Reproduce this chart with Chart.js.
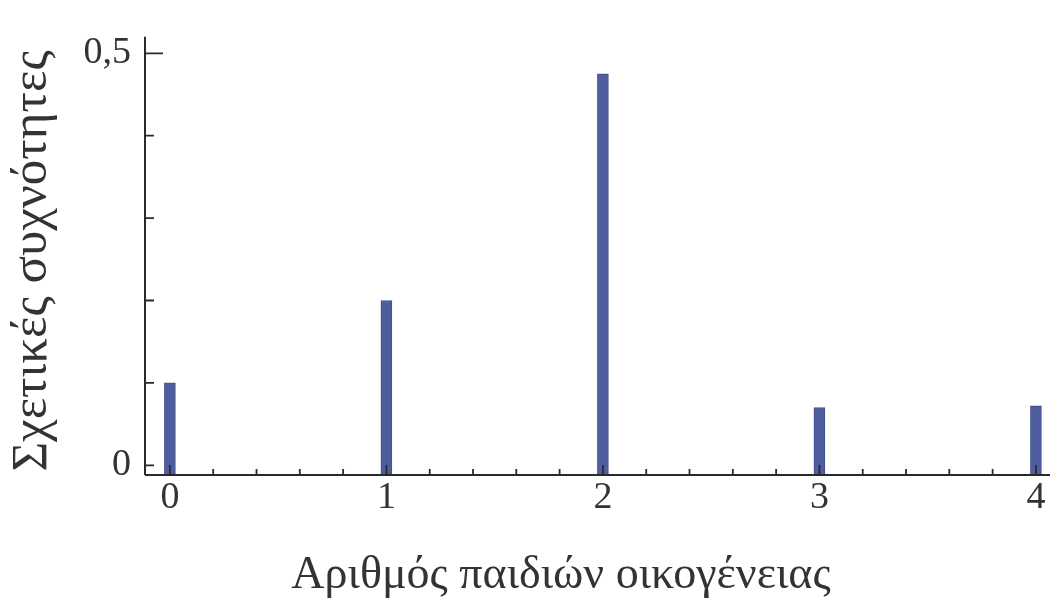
<!DOCTYPE html>
<html>
<head>
<meta charset="utf-8">
<script src="https://cdn.jsdelivr.net/npm/chart.js@4.4.1/dist/chart.umd.min.js"></script>
<style>
html,body{margin:0;padding:0;background:#fff;}
#wrap{width:1050px;height:601px;position:relative;}
</style>
</head>
<body>
<div id="wrap"><canvas id="c"></canvas></div>
<script>
// ---- data ----
const categories = [0, 1, 2, 3, 4];
const relFreq = [0.10, 0.20, 0.475, 0.07, 0.072];
const xTickValues = [0, 1, 2, 3, 4];
const xTickLabels = ['0', '1', '2', '3', '4'];
const xMinorTicks = [0.2,0.4,0.6,0.8,1.2,1.4,1.6,1.8,2.2,2.4,2.6,2.8,3.2,3.4,3.6,3.8];
const yTickValues = [0, 0.5];
const yTickLabels = ['0', '0,5'];
const yMinorTicks = [0.1, 0.2, 0.3, 0.4];
const xTitle = 'Αριθμός παιδιών οικογένειας';
const yTitle = 'Σχετικές συχνότητες';

// ---- axis ranges ----
const X_MIN = -0.115, X_MAX = 4.065;
const Y_MIN = -0.0118, Y_MAX = 0.52;

const FONT = "'Liberation Serif', 'DejaVu Serif', serif";
const INK = '#2a2a2a';

const axesPlugin = {
  id: 'mmaAxes',
  afterDatasetsDraw(chart) {
    const {ctx, chartArea: a, scales: {x, y}} = chart;
    ctx.save();
    ctx.strokeStyle = INK;
    ctx.lineWidth = 2;
    ctx.beginPath();
    ctx.moveTo(a.left, a.top); ctx.lineTo(a.left, a.bottom);
    ctx.moveTo(a.left, a.bottom); ctx.lineTo(a.right, a.bottom);
    ctx.stroke();
    ctx.lineWidth = 1.8;
    ctx.beginPath();
    yMinorTicks.forEach(v => { const p = y.getPixelForValue(v); ctx.moveTo(a.left, p); ctx.lineTo(a.left + 9, p); });
    yTickValues.forEach(v => { const p = y.getPixelForValue(v); ctx.moveTo(a.left, p); ctx.lineTo(a.left + (v === 0 ? 9 : 18), p); });
    xMinorTicks.forEach(v => { const p = x.getPixelForValue(v); ctx.moveTo(p, a.bottom); ctx.lineTo(p, a.bottom - 6); });
    xTickValues.forEach(v => { const p = x.getPixelForValue(v); ctx.moveTo(p, a.bottom); ctx.lineTo(p, a.bottom - 10); });
    ctx.stroke();

    // axis titles
    ctx.fillStyle = '#333';
    ctx.textAlign = 'center';
    ctx.textBaseline = 'middle';
    ctx.font = "46px " + FONT;
    ctx.fillText(xTitle, 561, 576);
    ctx.translate(33, 261);
    ctx.rotate(-Math.PI / 2);
    ctx.font = "51px " + FONT;
    ctx.fillText(yTitle, 0, 0);
    ctx.restore();
  }
};

new Chart(document.getElementById('c'), {
  type: 'bar',
  data: {
    datasets: [{
      data: categories.map((c, i) => ({x: c, y: relFreq[i]})),
      backgroundColor: '#4e5d9e',
      borderColor: '#414f8c',
      borderWidth: 1,
      barThickness: 11,
      base: Y_MIN
    }]
  },
  options: {
    responsive: true,
    maintainAspectRatio: false,
    animation: false,
    devicePixelRatio: 1,
    layout: {padding: {top: 25, right: 0, bottom: 0, left: 0}},
    plugins: {legend: {display: false}, tooltip: {enabled: false}},
    scales: {
      x: {
        type: 'linear',
        offset: false,
        min: X_MIN, max: X_MAX,
        border: {display: false},
        grid: {display: false, drawTicks: false, offset: false},
        afterBuildTicks: s => { s.ticks = xTickValues.map(v => ({value: v})); },
        afterFit: s => { s.height = 126; },
        ticks: {
          autoSkip: false, maxRotation: 0,
          padding: 0,
          color: '#333',
          font: {family: FONT, size: 38},
          callback: (v) => xTickLabels[xTickValues.indexOf(v)]
        },
        title: {display: false}
      },
      y: {
        type: 'linear',
        min: Y_MIN, max: Y_MAX,
        border: {display: false},
        grid: {display: false, drawTicks: false},
        afterBuildTicks: s => { s.ticks = yTickValues.map(v => ({value: v})); },
        afterFit: s => { s.width = 145; },
        ticks: {
          autoSkip: false,
          padding: 14,
          color: '#333',
          font: {family: FONT, size: 38},
          callback: (v) => yTickLabels[yTickValues.indexOf(v)]
        },
        title: {display: false}
      }
    }
  },
  plugins: [axesPlugin]
});
</script>
</body>
</html>
